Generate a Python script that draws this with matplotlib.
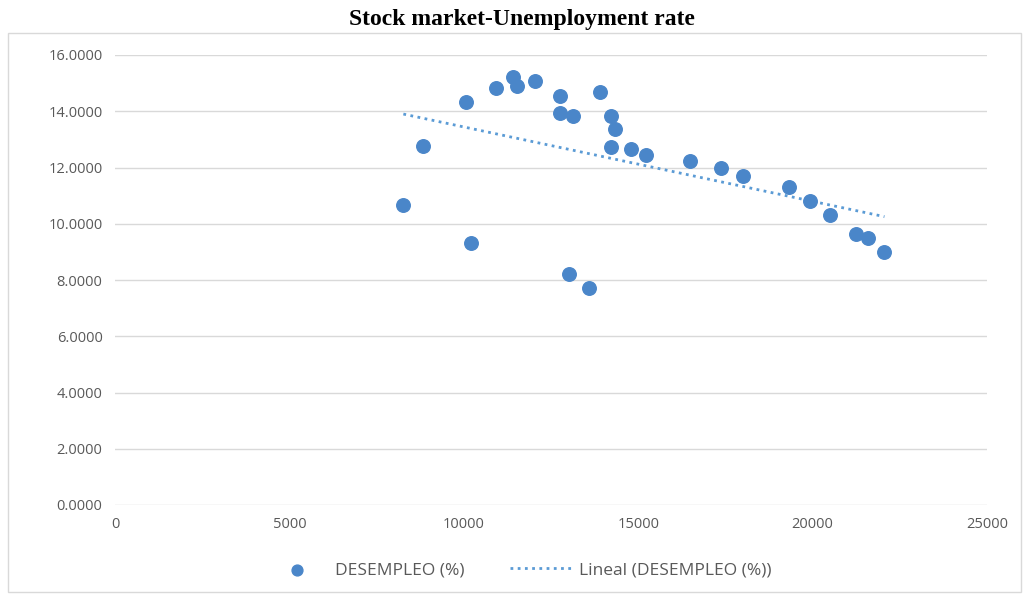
import numpy as np
import matplotlib.pyplot as plt
from matplotlib.patches import Rectangle

# stock market index vs unemployment rate (%)
bolsa = [8267, 8842, 10057, 10201, 10920, 11417, 11514, 12032, 12767, 12767,
         13132, 13026, 13601, 13908, 14224, 14348, 14224, 14799, 15210, 16474,
         17365, 17997, 19310, 19934, 20497, 21244, 21601, 22060]
desempleo = [10.65, 12.78, 14.32, 9.33, 14.83, 15.22, 14.89, 15.06, 14.56, 13.94,
             13.82, 8.22, 7.72, 14.67, 13.82, 13.38, 12.72, 12.66, 12.43, 12.23,
             12.00, 11.71, 11.32, 10.82, 10.31, 9.65, 9.49, 8.98]
x_ticks = [0, 5000, 10000, 15000, 20000, 25000]
y_ticks = [0, 2, 4, 6, 8, 10, 12, 14, 16]

dot_color = '#4a86c9'
trend_color = '#5b9bd5'
grey = '#595959'

fig = plt.figure(figsize=(10.29, 5.94), dpi=100)
ax = fig.add_axes([115 / 1029, 1 - 505 / 594, 872 / 1029, 450 / 594])

# border around chart area
fig.patches.append(Rectangle((8 / 1029, 1 - 592 / 594), 1013 / 1029, 559 / 594,
                             transform=fig.transFigure, fill=False,
                             edgecolor='#d9d9d9', linewidth=1))

ax.scatter(bolsa, desempleo, s=95, color=dot_color, zorder=3, label='DESEMPLEO (%)')

# linear trend line
m, b = np.polyfit(bolsa, desempleo, 1)
xs = np.array([min(bolsa), max(bolsa)])
ax.plot(xs, m * xs + b, color=trend_color, linewidth=2, linestyle=(0, (1, 1.6)),
        zorder=2, label='Lineal (DESEMPLEO (%))')

ax.set_xlim(0, 25000)
ax.set_ylim(0, 16)
ax.set_xticks(x_ticks)
ax.set_yticks(y_ticks)
ax.set_yticklabels([f'{v:.4f}' for v in y_ticks])
ax.grid(axis='y', color='#d9d9d9', linewidth=1)
ax.set_axisbelow(True)
for s in ax.spines.values():
    s.set_visible(False)
ax.tick_params(length=0, labelsize=10.5, labelcolor=grey, pad=9)
for lab in ax.get_xticklabels() + ax.get_yticklabels():
    lab.set_family('Open Sans')

fig.text(522 / 1029, 1 - 20 / 594, 'Stock market-Unemployment rate', ha='center', va='center',
         fontsize=17, fontweight='bold', family='Liberation Serif')

leg = fig.legend(loc='center', bbox_to_anchor=(519 / 1029, 1 - 570 / 594), ncol=2,
                 frameon=False, prop={'family': 'Open Sans', 'size': 12.5},
                 scatterpoints=1, markerscale=0.8,
                 handlelength=3.5, columnspacing=2.6, handletextpad=0.46)
for t in leg.get_texts():
    t.set_color(grey)

fig.savefig('out.png', dpi=100)
